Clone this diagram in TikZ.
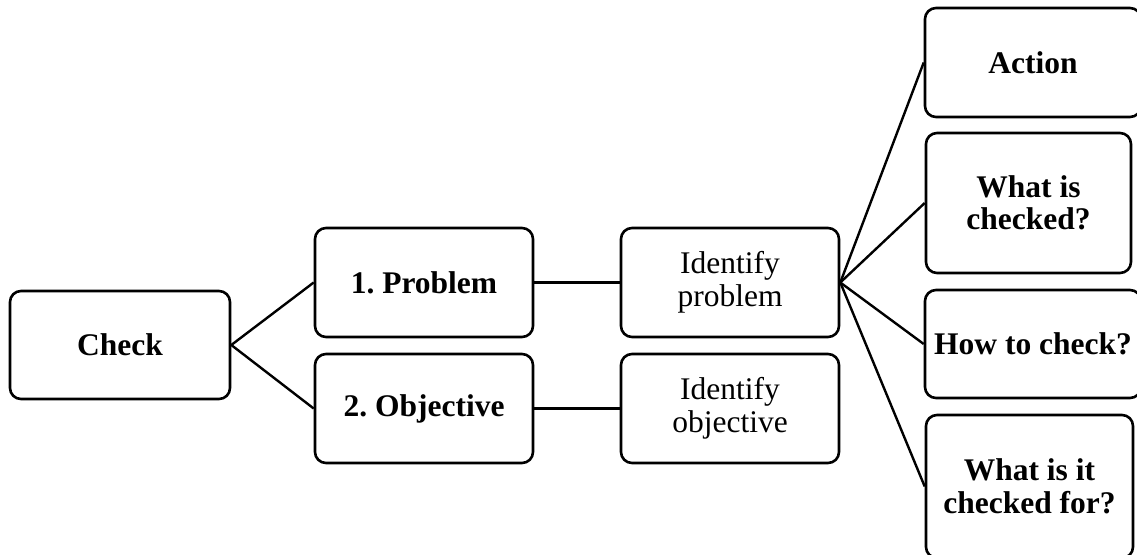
\documentclass[tikz,border=0pt]{standalone}
\usepackage{fontspec}
\setmainfont{Liberation Serif}
\frenchspacing
\begin{document}
\begin{tikzpicture}[x=1pt,y=-1pt,
  box/.style={draw=black, line width=2.6pt, rounded corners=11pt, fill=white,
    inner sep=0pt, align=center, font=\fontsize{31.5}{32.5}\selectfont},
  boldbox/.style={box, font=\fontsize{31.5}{32.5}\selectfont\bfseries},
  link/.style={draw=black, line width=2.4pt}]
\useasboundingbox (0,0) rectangle (1137,554);
\fill[white] (0,0) rectangle (1137,554);

% root and first level
\node[boldbox, minimum width=220pt, minimum height=108pt] (check) at (120,345) {Check};
\node[boldbox, minimum width=218pt, minimum height=109pt] (prob) at (424,282.5) {1. Problem};
\node[boldbox, minimum width=218pt, minimum height=109pt] (obj) at (424,408.5) {2. Objective};

% second level
\node[box, minimum width=218pt, minimum height=109pt] (idp) at (730,282.5) {Identify\\problem};
\node[box, minimum width=218pt, minimum height=109pt] (ido) at (730,408.5) {Identify\\objective};

% questions
\node[boldbox, minimum width=216pt, minimum height=109pt] (act) at (1033,62.5) {Action};
\node[boldbox, minimum width=205pt, minimum height=140pt] (what) at (1028.5,203) {What is\\checked?};
\node[boldbox, minimum width=216pt, minimum height=108pt] (how) at (1033,344) {How to check?};
\node[boldbox, minimum width=207pt, minimum height=143pt] (for) at (1029.5,486.5) {What is it\\checked for?};

% connectors
\draw[link] (check.east) -- (prob.west);
\draw[link] (check.east) -- (obj.west);
\draw[link] (prob.east) -- (idp.west);
\draw[link] (obj.east) -- (ido.west);
\draw[link] (idp.east) -- (act.west);
\draw[link] (idp.east) -- (what.west);
\draw[link] (idp.east) -- (how.west);
\draw[link] (idp.east) -- (for.west);
\end{tikzpicture}
\end{document}
